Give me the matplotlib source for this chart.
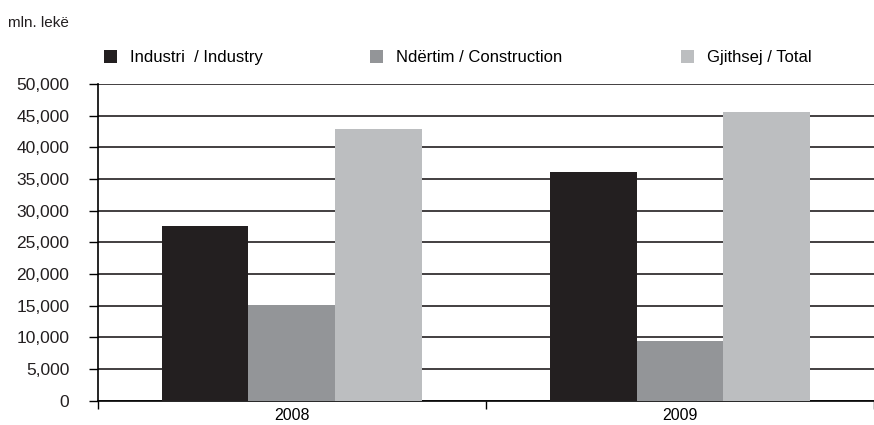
import matplotlib
matplotlib.use('Agg')
import matplotlib.pyplot as plt
import numpy as np

years = ['2008', '2009']
industry = [27600, 36100]
construction = [15100, 9500]
total = [42900, 45600]
labels = ['Industri  / Industry', 'Ndërtim / Construction', 'Gjithsej / Total']
colors = ['#231f20', '#939598', '#bcbec0']

plt.rcParams['font.family'] = ['Liberation Sans Narrow', 'Liberation Sans', 'DejaVu Sans']

fig = plt.figure(figsize=(8.74, 4.25), dpi=100)
ax = fig.add_axes([0.112, 0.057, 0.888, 0.745])

x = np.arange(len(years))
w = 0.224
series = [industry, construction, total]
handles = []
for i, vals in enumerate(series):
    b = ax.bar(x + (i - 1) * w, vals, w, color=colors[i], zorder=3, label=labels[i])
    handles.append(b)

ax.set_xlim(-0.5, 1.5)
ax.set_ylim(0, 50000)
ax.set_yticks(np.arange(0, 50001, 5000))
ax.set_yticklabels([f'{v:,}' for v in range(0, 50001, 5000)], fontsize=12.5)
ax.yaxis.grid(True, color='#231f20', linewidth=1.2, zorder=0)
ax.set_axisbelow(True)

ax.set_xticks(x)
ax.set_xticklabels(years, fontsize=11.5)
ax.tick_params(axis='x', length=0, pad=5)
ax.set_xticks([-0.5, 0.5, 1.5], minor=True)
ax.tick_params(axis='x', which='minor', length=6, width=1, direction='out')
ax.tick_params(axis='y', length=6.5, width=1, direction='out', pad=14)
for lbl in ax.get_yticklabels():
    lbl.set_color('#231f20')

for s in ['top', 'right']:
    ax.spines[s].set_visible(False)
ax.spines['left'].set_linewidth(1.2)
ax.spines['bottom'].set_linewidth(1.2)

fig.text(0.009, 0.945, 'mln. lekë', fontsize=11, va='center', color='#231f20')

# three legend entries placed separately, like the original
legend_x = [0.119, 0.423, 0.779]
for h, lab, lx in zip(handles, labels, legend_x):
    leg = fig.legend(handles=[h], labels=[lab], loc='center left',
                     bbox_to_anchor=(lx, 0.864), frameon=False,
                     fontsize=12, handlelength=0.8, handleheight=0.8,
                     handletextpad=0.75, borderpad=0, borderaxespad=0)

fig.savefig('out.png', dpi=100)
